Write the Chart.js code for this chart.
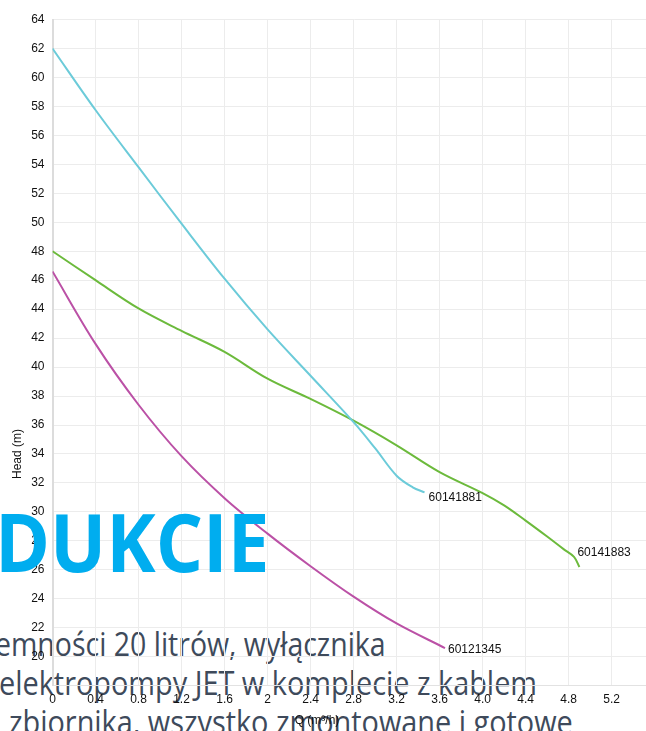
<!DOCTYPE html>
<html>
<head>
<meta charset="utf-8">
<script src="https://cdn.jsdelivr.net/npm/chart.js@4.4.0/dist/chart.umd.min.js"></script>
<style>
    html, body {
        margin: 0;
        padding: 0;
        background: #fff;
        overflow: hidden;
    }

    #wrap {
        position: relative;
        width: 646px;
        height: 731px;
        overflow: hidden;
    }

    #grafico {
        position: absolute;
        left: 0;
        top: 0;
        z-index: 2;
    }

    .texto {
        position: absolute;
        font-family: "Open Sans";
        font-size: 32px;
        line-height: 1;
        white-space: nowrap;
        color: #3e4a5b;
        transform: scaleX(0.902);
        transform-origin: left top;
        z-index: 1;
    }

    .destaque {
        position: absolute;
        font-family: "Open Sans";
        font-weight: 700;
        font-size: 80px;
        line-height: 1;
        white-space: nowrap;
        color: #00adef;
        transform: scaleX(0.93);
        transform-origin: left top;
        z-index: 3;
    }
</style>
</head>
<body>
<div id="wrap">
    <canvas id="grafico" width="670" height="731"></canvas>
    <div class="destaque" style="left: -5px; top: 501px;">DUKCIE</div>
    <div class="texto" style="left: -5px; top: 628px; transform: scaleX(0.89);">emności 20 litrów, wyłącznika</div>
    <div class="texto" style="left: -1px; top: 667px;">elektropompy JET w komplecie z kablem</div>
    <div class="texto" style="left: 9px; top: 706px;">zbiornika, wszystko zmontowane i gotowe</div>
</div>

<script>
// curvas das bombas (Q em m3/h, altura em m)
const nomes = ["60141881", "60141883", "60121345"];

const qCiano = [0, 0.4, 0.8, 1.2, 1.6, 2.0, 2.4, 2.8, 3.0, 3.2, 3.35, 3.46];
const headCiano = [62, 57.75, 53.8, 49.9, 46.1, 42.6, 39.4, 36.2, 34.4, 32.5, 31.7, 31.35];

const qVerde = [0, 0.4, 0.8, 1.2, 1.6, 2.0, 2.4, 2.8, 3.2, 3.6, 4.0, 4.2, 4.4, 4.6, 4.75, 4.85, 4.9];
const headVerde = [48, 46.0, 44.05, 42.5, 41.05, 39.2, 37.8, 36.3, 34.6, 32.75, 31.3, 30.45, 29.4, 28.3, 27.45, 26.9, 26.2];

const qRoxo = [0, 0.4, 0.8, 1.2, 1.6, 2.0, 2.4, 2.8, 3.2, 3.65];
const headRoxo = [46.6, 41.6, 37.4, 33.85, 30.95, 28.5, 26.25, 24.15, 22.3, 20.6];

const xTickLabels = ["0", "0.4", "0.8", "1.2", "1.6", "2", "2.4", "2.8", "3.2", "3.6", "4.0", "4.4", "4.8", "5.2", "5.6"];
const yTickLabels = ["", "20", "22", "24", "26", "28", "30", "32", "34", "36", "38", "40", "42", "44", "46", "48", "50", "52", "54", "56", "58", "60", "62", "64"];

const tituloX = "Q (m³/h)";
const tituloY = "Head (m)";

function montarPontos(qs, heads) {
    let pontos = [];

    for (let i = 0; i < qs.length; i++) {
        pontos.push({ x: qs[i], y: heads[i] });
    }

    return pontos;
}

// nome da curva no fim de cada linha
const rotulosFinais = {
    id: "rotulosFinais",
    afterDatasetsDraw(chart) {
        const ctx = chart.ctx;

        ctx.save();
        ctx.font = "12px 'Liberation Sans', Arial, sans-serif";
        ctx.fillStyle = "#111";
        ctx.textAlign = "left";
        ctx.textBaseline = "middle";

        chart.data.datasets.forEach((ds, i) => {
            const meta = chart.getDatasetMeta(i);
            const ultimo = meta.data[meta.data.length - 1];
            const desloc = ds.deslocRotulo || [4, 5];

            ctx.fillText(ds.label, ultimo.x + desloc[0], ultimo.y + desloc[1]);
        });

        ctx.restore();
    }
};

// titulos dos eixos fora do centro, como no original
const titulosEixos = {
    id: "titulosEixos",
    afterDraw(chart) {
        const ctx = chart.ctx;

        ctx.save();
        ctx.font = "12px 'Liberation Sans', Arial, sans-serif";
        ctx.fillStyle = "#111";
        ctx.textAlign = "center";
        ctx.textBaseline = "middle";

        ctx.fillText(tituloX, 317, 721);

        ctx.translate(18, 454);
        ctx.rotate(-Math.PI / 2);
        ctx.fillText(tituloY, 0, 0);

        ctx.restore();
    }
};

const ctx = document.getElementById("grafico");

new Chart(ctx, {
    type: "line",
    data: {
        datasets: [
            {
                label: nomes[0],
                data: montarPontos(qCiano, headCiano),
                borderColor: "#6ccbd9",
                borderWidth: 2,
                pointRadius: 0,
                fill: false,
                tension: 0.35,
                deslocRotulo: [4, 5]
            },
            {
                label: nomes[1],
                data: montarPontos(qVerde, headVerde),
                borderColor: "#6cba3c",
                borderWidth: 2,
                pointRadius: 0,
                fill: false,
                tension: 0.35,
                deslocRotulo: [-2, -14]
            },
            {
                label: nomes[2],
                data: montarPontos(qRoxo, headRoxo),
                borderColor: "#bb51a6",
                borderWidth: 2,
                pointRadius: 0,
                fill: false,
                tension: 0.35,
                deslocRotulo: [3, 2]
            }
        ]
    },
    options: {
        responsive: false,
        animation: false,
        layout: {
            padding: { top: 19.5, right: 0, bottom: 0, left: 0 }
        },
        plugins: {
            legend: { display: false },
            tooltip: { enabled: false }
        },
        scales: {
            x: {
                type: "linear",
                min: 0,
                max: 5.6,
                afterFit: (axis) => { axis.height = 45.3; },
                grid: { color: "#ececec", drawTicks: false },
                border: { color: "#e2e2e2", width: 1 },
                ticks: {
                    stepSize: 0.4,
                    padding: 7,
                    maxRotation: 0,
                    autoSkip: false,
                    color: "#111",
                    font: { family: "'Liberation Sans', Arial, sans-serif", size: 12 },
                    callback: (valor, indice) => xTickLabels[indice]
                }
            },
            y: {
                type: "linear",
                min: 18,
                max: 64,
                afterFit: (axis) => { axis.width = 52.5; },
                grid: { color: "#ececec", drawTicks: false },
                border: { color: "#dcdcdc", width: 2 },
                ticks: {
                    stepSize: 2,
                    padding: 8,
                    autoSkip: false,
                    color: "#111",
                    font: { family: "'Liberation Sans', Arial, sans-serif", size: 12 },
                    callback: (valor, indice) => yTickLabels[indice]
                }
            }
        }
    },
    plugins: [rotulosFinais, titulosEixos]
});
</script>
</body>
</html>
